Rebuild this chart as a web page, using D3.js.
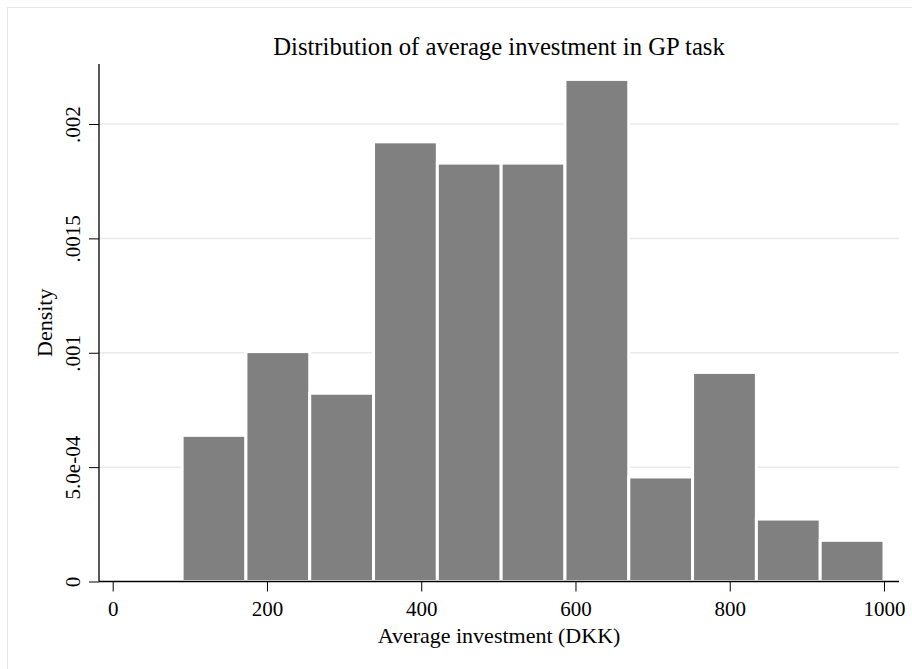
<!DOCTYPE html>
<html>
<head>
<meta charset="utf-8">
<script src="https://cdn.jsdelivr.net/npm/d3@7"></script>
<style>
  html, body { margin: 0; padding: 0; background: #fff; }
  svg { display: block; }
</style>
</head>
<body>
<div id="chart"></div>
<script>
// ---- data ----
const binStart = 90;
const binEnd = 1000;
const densities = [0.000639, 0.001005, 0.000823, 0.001922, 0.001829, 0.001829, 0.002195, 0.000457, 0.000914, 0.000273, 0.000180];
const yTicks = [0, 0.0005, 0.001, 0.0015, 0.002];
const yTickLabels = ["0", "5.0e-04", ".001", ".0015", ".002"];
const xTicks = [0, 200, 400, 600, 800, 1000];
const xTickLabels = ["0", "200", "400", "600", "800", "1000"];
const titleText = "Distribution of average investment in GP task";
const xTitle = "Average investment (DKK)";
const yTitle = "Density";

// ---- layout ----
const W = 912, H = 669;
const plot = { left: 99, right: 899, top: 64, bottom: 581.5 };
const FONT = "'Liberation Serif', 'Times New Roman', serif";

const svg = d3.select("#chart").append("svg").attr("width", W).attr("height", H);

svg.append("rect").attr("x", 0).attr("y", 0).attr("width", W).attr("height", H).attr("fill", "#fff");
svg.append("rect").attr("x", 7.5).attr("y", 7.5).attr("width", W + 20).attr("height", H + 20)
  .attr("fill", "#fff").attr("stroke", "#e6e6e6").attr("stroke-width", 1);

const x = d3.scaleLinear().domain([0, 1000]).range([112.7, 884]);
const y = d3.scaleLinear().domain([0, 0.002]).range([plot.bottom, 124]);

const nb = densities.length;
const bw = (binEnd - binStart) / nb;
const bins = densities.map((d, i) => ({ x0: binStart + i * bw, x1: binStart + (i + 1) * bw, d }));

// gridlines
svg.append("g").selectAll("line").data(yTicks.filter(t => t > 0)).join("line")
  .attr("x1", plot.left).attr("x2", plot.right)
  .attr("y1", d => y(d)).attr("y2", d => y(d))
  .attr("stroke", "#eaeaea").attr("stroke-width", 1.5);

// bars
svg.append("g").selectAll("rect").data(bins).join("rect")
  .attr("x", b => x(b.x0)).attr("width", b => x(b.x1) - x(b.x0))
  .attr("y", b => y(b.d)).attr("height", b => y(0) - y(b.d))
  .attr("fill", "#808080").attr("stroke", "#fff").attr("stroke-width", 3);

// y axis
const yAxis = svg.append("g").attr("transform", `translate(${plot.left},0)`)
  .call(d3.axisLeft(y).tickValues(yTicks).tickSize(10).tickFormat((d, i) => yTickLabels[i]));
yAxis.select(".domain").remove();
yAxis.selectAll(".tick line").attr("stroke", "#000").attr("stroke-width", 1);
yAxis.selectAll(".tick text")
  .attr("x", null).attr("dy", null)
  .attr("transform", "translate(-19,0) rotate(-90)")
  .attr("text-anchor", "middle")
  .attr("fill", "#000")
  .style("font-family", FONT).style("font-size", "21px");
svg.append("line").attr("x1", plot.left).attr("x2", plot.left).attr("y1", plot.top).attr("y2", plot.bottom)
  .attr("stroke", "#000").attr("stroke-width", 1.3);

// x axis
const xAxis = svg.append("g").attr("transform", `translate(0,${plot.bottom})`)
  .call(d3.axisBottom(x).tickValues(xTicks).tickSize(10).tickFormat((d, i) => xTickLabels[i]));
xAxis.select(".domain").remove();
xAxis.selectAll(".tick line").attr("stroke", "#000").attr("stroke-width", 1);
xAxis.selectAll(".tick text")
  .attr("y", 34.5).attr("dy", null)
  .attr("fill", "#000")
  .style("font-family", FONT).style("font-size", "21px");
svg.append("line").attr("x1", plot.left).attr("x2", plot.right).attr("y1", plot.bottom).attr("y2", plot.bottom)
  .attr("stroke", "#000").attr("stroke-width", 1.3);

// titles
svg.append("text").attr("x", (plot.left + plot.right) / 2).attr("y", 55)
  .attr("text-anchor", "middle").style("font-family", FONT).style("font-size", "24.7px").attr("fill", "#000")
  .text(titleText);
svg.append("text").attr("x", (plot.left + plot.right) / 2).attr("y", 643)
  .attr("text-anchor", "middle").style("font-family", FONT).style("font-size", "22px").attr("fill", "#000")
  .text(xTitle);
svg.append("text").attr("transform", `translate(52,${(plot.top + plot.bottom) / 2}) rotate(-90)`)
  .attr("text-anchor", "middle").style("font-family", FONT).style("font-size", "22px").attr("fill", "#000")
  .text(yTitle);
</script>
</body>
</html>
